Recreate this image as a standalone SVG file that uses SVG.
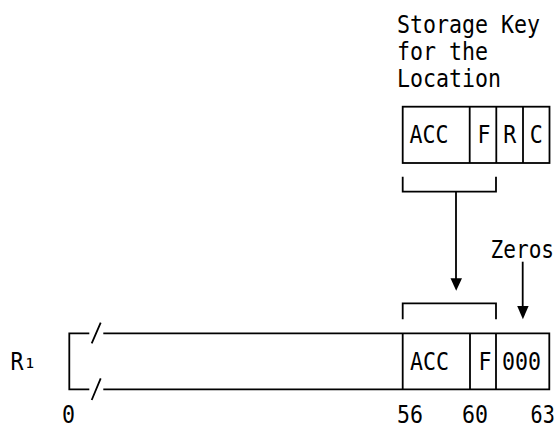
<svg xmlns="http://www.w3.org/2000/svg" width="555" height="428" viewBox="0 0 555 428">
<style>
.t{font-family:"DejaVu Sans Mono","Liberation Mono",monospace;font-size:24px;fill:#000}
.ln{fill:none;stroke:#000;stroke-width:1.8}
.ah{fill:#000;stroke:none}
</style>
<rect width="555" height="428" fill="#fff"/>
<g id="storage-key-label">
<text class="t" transform="translate(397 33.3) scale(0.9 1)">Storage Key</text>
<text class="t" transform="translate(397 60) scale(0.9 1)">for the</text>
<text class="t" transform="translate(397 86.7) scale(0.9 1)">Location</text>
</g>
<g id="storage-key">
<rect class="ln" x="402.7" y="106.7" width="146.8" height="56.3"/>
<path class="ln" d="M469.7 106.7V163M496.3 106.7V163M523 106.7V163"/>
<text class="t" transform="translate(409.5 143.3) scale(0.9 1)">ACC</text>
<text class="t" transform="translate(477.5 143.3) scale(0.9 1)">F</text>
<text class="t" transform="translate(503.3 143.3) scale(0.9 1)">R</text>
<text class="t" transform="translate(529.8 143.3) scale(0.9 1)">C</text>
</g>
<g id="zeros-label">
<text class="t" transform="translate(490.5 258) scale(0.88 1)">Zeros</text>
</g>
<g id="register">
<text class="t" transform="translate(10.5 370) scale(0.9 1)">R<tspan dy="-2">₁</tspan></text>
<path class="ln" d="M89.3 333.3H69.3V389.3H89.3M103.3 333.3H549.3V389.3H103.3"/>
<path class="ln" d="M91.7 343.3L100.7 322.7M91.7 400L100.7 378.3"/>
<path class="ln" d="M402.7 333.3V389.3M470 333.3V389.3M496 333.3V389.3"/>
<text class="t" transform="translate(410 370) scale(0.9 1)">ACC</text>
<text class="t" transform="translate(478.5 370) scale(0.9 1)">F</text>
<text class="t" transform="translate(502 370) scale(0.9 1)">000</text>
<text class="t" transform="translate(62 422.5) scale(0.9 1)">0</text>
<text class="t" transform="translate(397 422.5) scale(0.9 1)">56</text>
<text class="t" transform="translate(462 422.5) scale(0.9 1)">60</text>
<text class="t" transform="translate(530.5 422.5) scale(0.84 1)">63</text>
</g>
<g id="connectors">
<path class="ln" d="M402.7 176.7V191.7H496V176.7M456 191.7V280"/>
<polygon class="ah" points="450.5,278.3 462,278.3 456.2,290.7"/>
<path class="ln" d="M402.7 319.3V303.3H496V319.3"/>
<path class="ln" d="M522.7 261.7V307"/>
<polygon class="ah" points="517.2,306 528.6,306 522.9,319.3"/>
</g>
</svg>
